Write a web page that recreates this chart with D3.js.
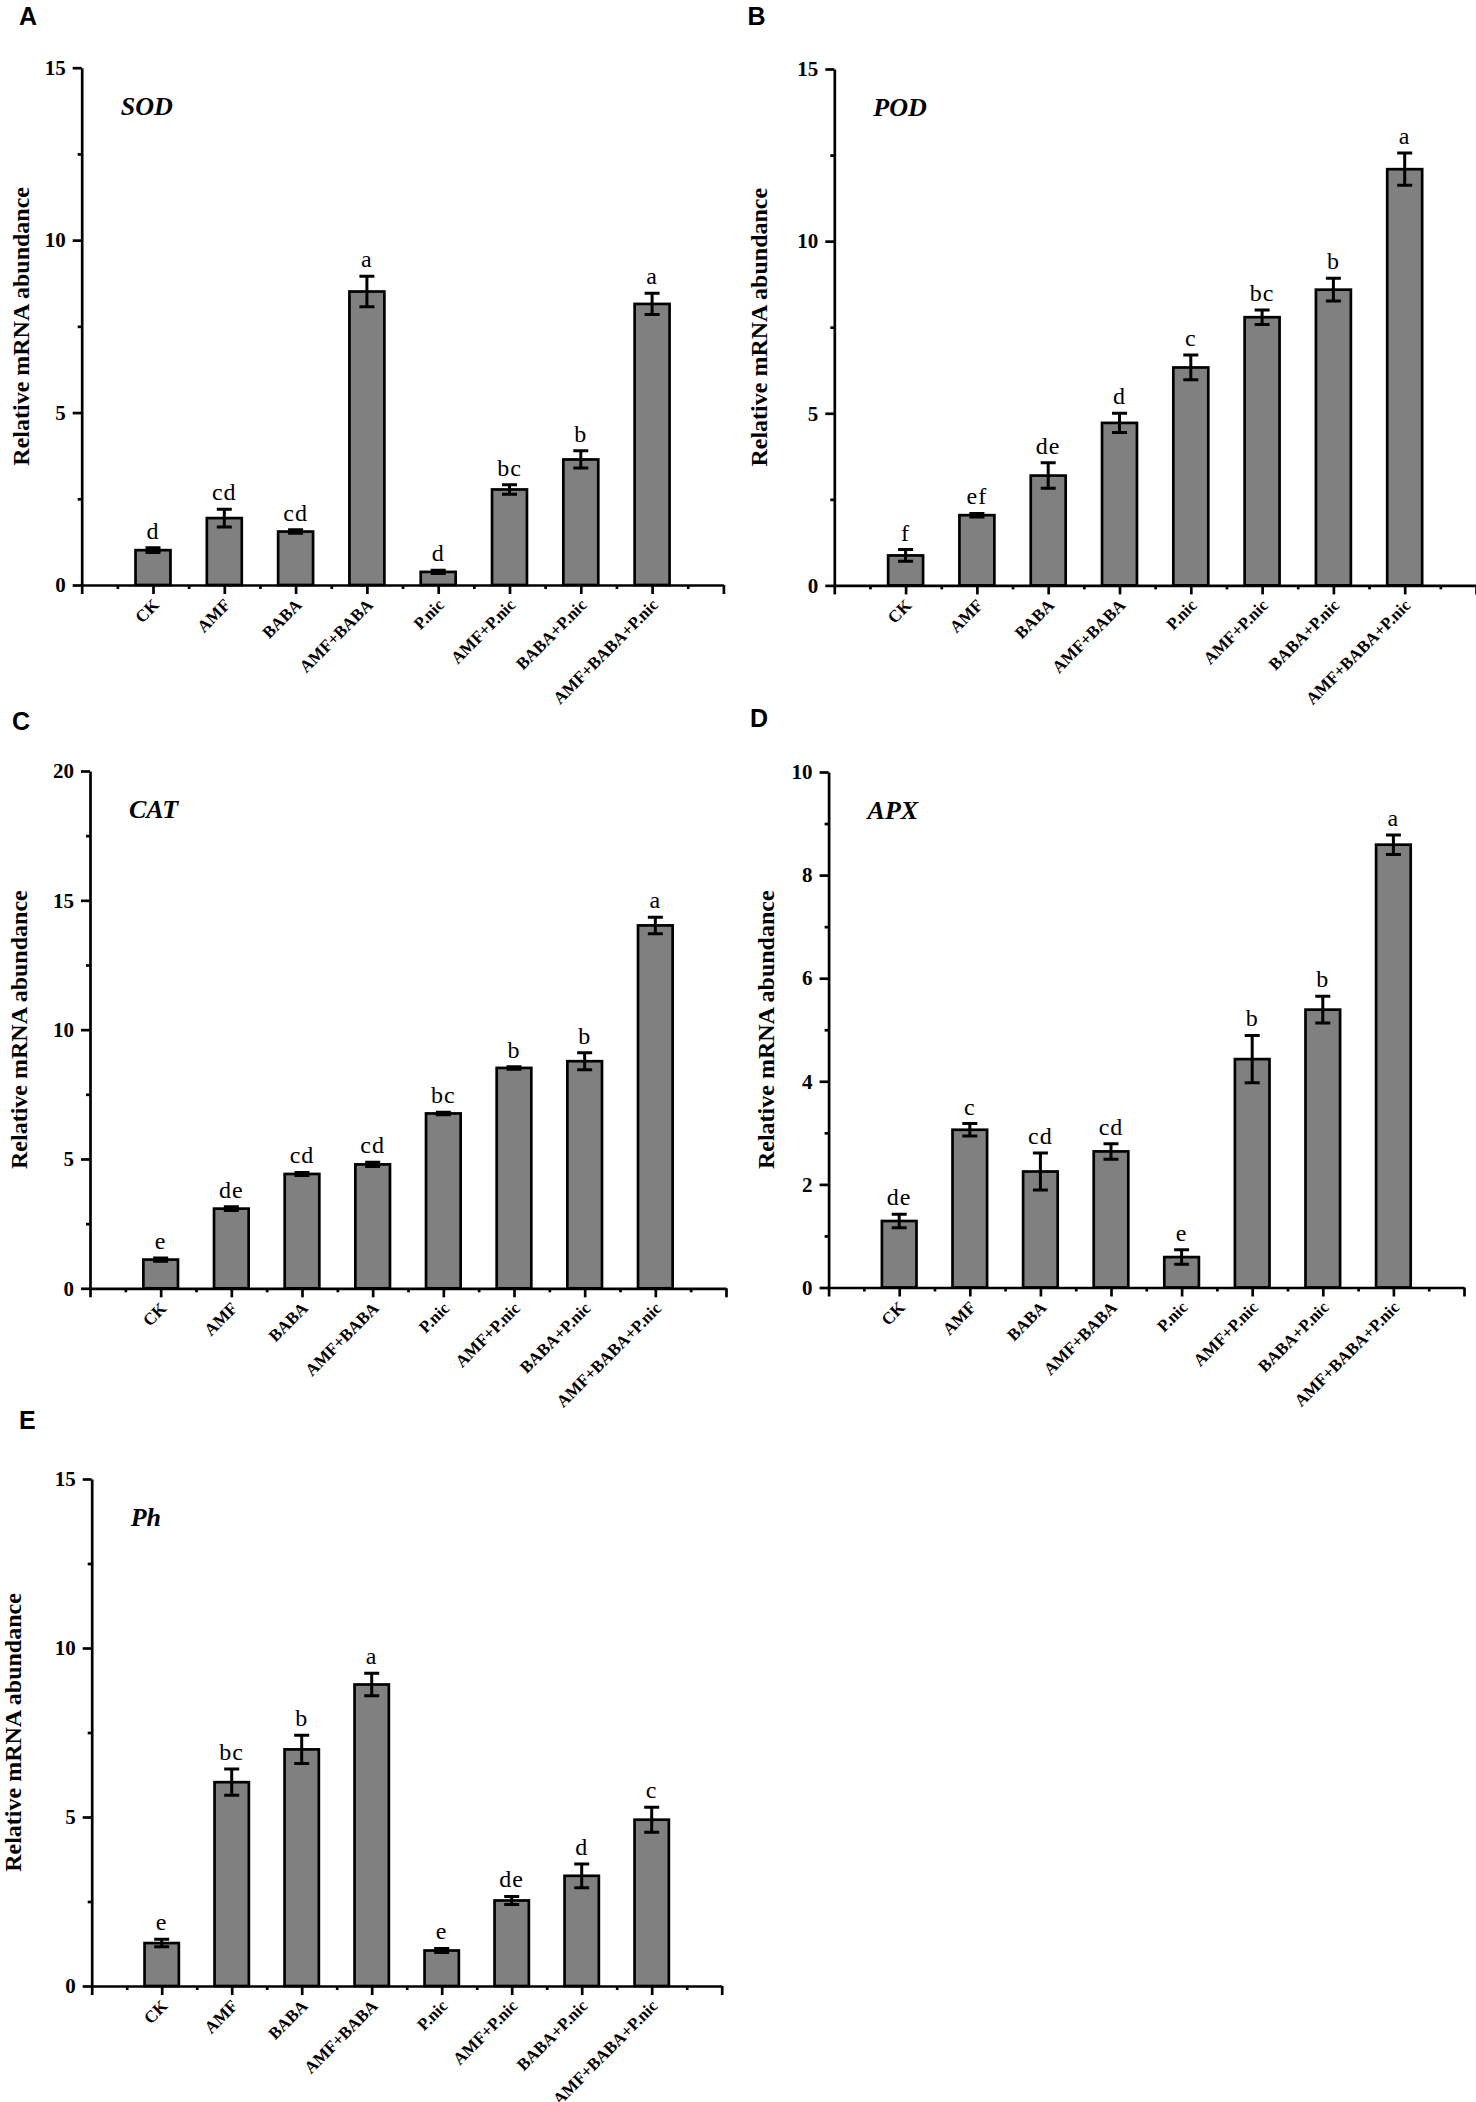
<!DOCTYPE html>
<html>
<head>
<meta charset="utf-8">
<script src="https://cdn.jsdelivr.net/npm/d3@7"></script>
<style>
  body { margin: 0; background: #fff; }
</style>
</head>
<body>
<svg id="fig"></svg>
<script>
// treatments on the x axis
var categories = ["CK", "AMF", "BABA", "AMF+BABA", "P.nic", "AMF+P.nic", "BABA+P.nic", "AMF+BABA+P.nic"];

// A - SOD
var sodMean = [1.01, 1.94, 1.55, 8.51, 0.38, 2.77, 3.64, 8.15];
var sodErr = [0.07, 0.26, 0.05, 0.44, 0.05, 0.14, 0.25, 0.31];
var sodLetters = ["d", "cd", "cd", "a", "d", "bc", "b", "a"];
var sodTicks = [0, 5, 10, 15];

// B - POD
var podMean = [0.87, 2.04, 3.19, 4.72, 6.33, 7.79, 8.59, 12.09];
var podErr = [0.17, 0.05, 0.37, 0.28, 0.36, 0.21, 0.33, 0.47];
var podLetters = ["f", "ef", "de", "d", "c", "bc", "b", "a"];
var podTicks = [0, 5, 10, 15];

// C - CAT
var catMean = [1.11, 3.08, 4.42, 4.79, 6.76, 8.52, 8.78, 14.03];
var catErr = [0.06, 0.07, 0.06, 0.08, 0.05, 0.05, 0.33, 0.32];
var catLetters = ["e", "de", "cd", "cd", "bc", "b", "b", "a"];
var catTicks = [0, 5, 10, 15, 20];

// D - APX
var apxMean = [1.29, 3.06, 2.25, 2.64, 0.59, 4.43, 5.39, 8.59];
var apxErr = [0.13, 0.12, 0.36, 0.15, 0.14, 0.46, 0.26, 0.19];
var apxLetters = ["de", "c", "cd", "cd", "e", "b", "b", "a"];
var apxTicks = [0, 2, 4, 6, 8, 10];

// E - Ph
var phMean = [1.27, 6.03, 7.00, 8.92, 1.05, 2.53, 3.26, 4.92];
var phErr = [0.11, 0.39, 0.42, 0.33, 0.06, 0.12, 0.35, 0.37];
var phLetters = ["e", "bc", "b", "a", "e", "de", "d", "c"];
var phTicks = [0, 5, 10, 15];

var serif = "'Liberation Serif', 'Times New Roman', serif";
var sans = "'Liberation Sans', Arial, sans-serif";
var barFill = "#808080";
var lw = 2.7;

var panels = [
  {tag: "A", gene: "SOD", mean: sodMean, err: sodErr, letters: sodLetters, ticks: sodTicks,
   left: 81.7, right: 723.4, top: 67.7, bottom: 585, tagX: 19, tagY: 25, labX: 21},
  {tag: "B", gene: "POD", mean: podMean, err: podErr, letters: podLetters, ticks: podTicks,
   left: 834.3, right: 1476, top: 69, bottom: 585.4, tagX: 747.5, tagY: 25, labX: 759},
  {tag: "C", gene: "CAT", mean: catMean, err: catErr, letters: catLetters, ticks: catTicks,
   left: 90, right: 726, top: 771, bottom: 1288.3, tagX: 12, tagY: 729.5, labX: 19},
  {tag: "D", gene: "APX", mean: apxMean, err: apxErr, letters: apxLetters, ticks: apxTicks,
   left: 828.6, right: 1464, top: 772, bottom: 1287.5, tagX: 750, tagY: 727, labX: 766},
  {tag: "E", gene: "Ph", mean: phMean, err: phErr, letters: phLetters, ticks: phTicks,
   left: 91.7, right: 721.7, top: 1479, bottom: 1986, tagX: 19, tagY: 1429, labX: 13}
];

var svg = d3.select("#fig").attr("width", 1476).attr("height", 2102);

function styleAxis(g) {
  g.attr("font-family", serif).attr("font-weight", "bold").attr("font-size", 21);
  g.selectAll(".domain").attr("stroke", "#000").attr("stroke-width", lw);
  g.selectAll(".tick line").attr("stroke", "#000").attr("stroke-width", lw);
  g.selectAll(".tick text").attr("fill", "#000");
}

panels.forEach(function(p) {
  var n = categories.length;
  var x = d3.scaleLinear().domain([0, n + 1]).range([p.left, p.right]);
  var yMax = p.ticks[p.ticks.length - 1];
  var y = d3.scaleLinear().domain([0, yMax]).range([p.bottom, p.top]);
  var step = x(1) - x(0);
  var barW = step * 0.49;
  var capW = 15;

  var g = svg.append("g").attr("class", "panel-" + p.tag);

  // bars
  g.selectAll("rect.bar")
    .data(p.mean).enter()
    .append("rect")
    .attr("class", "bar")
    .attr("x", function(d, i) { return x(i + 1) - barW / 2; })
    .attr("y", function(d) { return y(d); })
    .attr("width", barW)
    .attr("height", function(d) { return y(0) - y(d); })
    .attr("fill", barFill)
    .attr("stroke", "#000")
    .attr("stroke-width", lw);

  // error bars
  g.selectAll("path.err")
    .data(p.mean).enter()
    .append("path")
    .attr("class", "err")
    .attr("fill", "none")
    .attr("stroke", "#000")
    .attr("stroke-width", 3)
    .attr("d", function(d, i) {
      var cx = x(i + 1), hi = y(d + p.err[i]), lo = y(d - p.err[i]);
      return "M" + (cx - capW / 2) + "," + hi + "H" + (cx + capW / 2) +
             "M" + cx + "," + hi + "V" + lo +
             "M" + (cx - capW / 2) + "," + lo + "H" + (cx + capW / 2);
    });

  // significance letters
  g.selectAll("text.sig")
    .data(p.letters).enter()
    .append("text")
    .attr("class", "sig")
    .attr("x", function(d, i) { return x(i + 1); })
    .attr("y", function(d, i) { return y(p.mean[i] + p.err[i]) - 9; })
    .attr("text-anchor", "middle")
    .attr("font-family", serif)
    .attr("font-size", 24)
    .attr("letter-spacing", 1)
    .text(function(d) { return d; });

  // y axis
  var minorY = d3.pairs(p.ticks).map(function(t) { return (t[0] + t[1]) / 2; });
  g.append("g")
    .attr("transform", "translate(" + p.left + ",0)")
    .call(d3.axisLeft(y).tickValues(minorY).tickSize(4).tickSizeOuter(0).tickFormat(""))
    .call(styleAxis)
    .select(".domain").remove();
  g.append("g")
    .attr("transform", "translate(" + p.left + ",0)")
    .call(d3.axisLeft(y).tickValues(p.ticks).tickSize(9).tickSizeOuter(0).tickPadding(7).tickFormat(d3.format("d")))
    .call(styleAxis);

  // x axis
  g.append("g")
    .attr("transform", "translate(0," + p.bottom + ")")
    .call(d3.axisBottom(x).tickValues(d3.range(0.5, n + 1, 1)).tickSize(4).tickSizeOuter(0).tickFormat(""))
    .call(styleAxis)
    .select(".domain").remove();
  g.append("g")
    .attr("transform", "translate(0," + p.bottom + ")")
    .call(d3.axisBottom(x).tickValues(d3.range(0, n + 2, 1)).tickSize(9).tickSizeOuter(0).tickFormat(""))
    .call(styleAxis);

  // rotated category labels
  g.selectAll("text.cat")
    .data(categories).enter()
    .append("text")
    .attr("class", "cat")
    .attr("transform", function(d, i) {
      return "translate(" + (x(i + 1) + 7) + "," + (p.bottom + 21) + ") rotate(-45)";
    })
    .attr("text-anchor", "end")
    .attr("font-family", serif)
    .attr("font-weight", "bold")
    .attr("font-size", 17)
    .text(function(d) { return d; });

  // y axis title
  g.append("text")
    .attr("transform", "translate(" + p.labX + "," + ((p.top + p.bottom) / 2) + ") rotate(-90)")
    .attr("dy", "0.35em")
    .attr("text-anchor", "middle")
    .attr("font-family", serif)
    .attr("font-weight", "bold")
    .attr("font-size", 24)
    .text("Relative mRNA abundance");

  // gene name
  g.append("text")
    .attr("x", p.left + 39)
    .attr("y", p.top + 47)
    .attr("font-family", serif)
    .attr("font-weight", "bold")
    .attr("font-style", "italic")
    .attr("font-size", 26)
    .text(p.gene);

  // panel tag
  svg.append("text")
    .attr("x", p.tagX)
    .attr("y", p.tagY)
    .attr("font-family", sans)
    .attr("font-weight", "bold")
    .attr("font-size", 25)
    .text(p.tag);
});
</script>
</body>
</html>
